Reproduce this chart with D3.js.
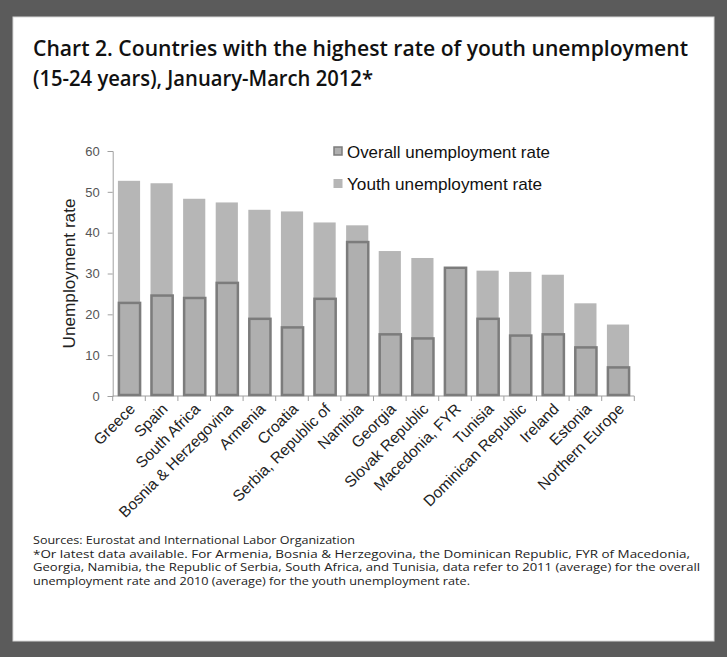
<!DOCTYPE html>
<html>
<head>
<meta charset="utf-8">
<script src="https://cdn.jsdelivr.net/npm/d3@7"></script>
<style>
  html, body { margin: 0; padding: 0; background: #5b5b5b; }
  svg { display: block; }
</style>
</head>
<body>
<svg id="chart" width="727" height="657"></svg>
<script>
// Countries ranked by youth unemployment rate (15-24 years)
const categories = [
  "Greece", "Spain", "South Africa", "Bosnia & Herzegovina", "Armenia",
  "Croatia", "Serbia, Republic of", "Namibia", "Georgia", "Slovak Republic",
  "Macedonia, FYR", "Tunisia", "Dominican Republic", "Ireland", "Estonia",
  "Northern Europe"
];
const youthRate = [52.7, 52.1, 48.3, 47.4, 45.6, 45.2, 42.5, 41.8, 35.5, 33.8, 31.2, 30.7, 30.4, 29.7, 22.7, 17.5];
const overallRate = [22.8, 24.6, 24.0, 27.7, 18.9, 16.8, 23.8, 37.7, 15.1, 14.1, 31.4, 18.9, 14.8, 15.1, 11.9, 7.0];
const yTicks = [0, 10, 20, 30, 40, 50, 60];

const titleLines = [
  "Chart 2. Countries with the highest rate of youth unemployment",
  "(15-24 years),  January-March 2012*"
];
const legendLabels = ["Overall unemployment rate", "Youth unemployment rate"];
const footnotes = [
  "Sources: Eurostat and International Labor Organization",
  "*Or latest data available.  For Armenia, Bosnia & Herzegovina, the Dominican Republic, FYR of Macedonia,",
  "Georgia, Namibia, the Republic of Serbia, South Africa, and Tunisia, data refer to 2011 (average) for the overall",
  "unemployment rate and 2010 (average) for the youth unemployment rate."
];

const svg = d3.select("#chart");

// white card
svg.append("rect")
  .attr("x", 13).attr("y", 17).attr("width", 701).attr("height", 624)
  .attr("fill", "#ffffff").attr("stroke", "#d8d8d8").attr("stroke-width", 1);

// title
const titleFont = "'Open Sans', 'DejaVu Sans', sans-serif";
const titleWidths = [655, 340];
svg.selectAll("text.title").data(titleLines).join("text")
  .attr("class", "title")
  .attr("x", 33).attr("y", (d, i) => 56 + i * 30)
  .attr("font-family", titleFont).attr("font-weight", 600)
  .attr("font-size", 21).attr("fill", "#111")
  .attr("textLength", (d, i) => titleWidths[i])
  .attr("lengthAdjust", "spacingAndGlyphs")
  .text(d => d);

// scales
const plotLeft = 112.7, plotRight = 634.3, plotTop = 151, plotBottom = 396;
const x = d3.scaleBand().domain(categories).range([plotLeft, plotRight])
  .paddingInner(0.32).paddingOuter(0.16);
const y = d3.scaleLinear().domain([0, 60]).range([plotBottom, plotTop]);

const axisColor = "#a0a0a0";
const chartFont = "Arial, 'Liberation Sans', sans-serif";

// y axis
const yAxis = svg.append("g").attr("transform", `translate(${plotLeft},0)`)
  .call(d3.axisLeft(y).tickValues(yTicks).tickSize(5).tickPadding(8));
yAxis.select(".domain").attr("stroke", axisColor);
yAxis.selectAll(".tick line").attr("stroke", axisColor);
yAxis.selectAll(".tick text").attr("font-family", chartFont)
  .attr("font-size", 13).attr("fill", "#555");

// x axis with ticks between categories
const xAxis = svg.append("g").attr("transform", `translate(0,${plotBottom})`);
xAxis.append("line").attr("x1", plotLeft).attr("x2", plotRight)
  .attr("y1", 0).attr("y2", 0).attr("stroke", axisColor);
const step = x.step();
const boundaries = d3.range(categories.length + 1).map(i => plotLeft + i * step);
xAxis.selectAll("line.tk").data(boundaries).join("line")
  .attr("class", "tk")
  .attr("x1", d => d).attr("x2", d => d).attr("y1", 0).attr("y2", 5)
  .attr("stroke", axisColor);

// youth bars (behind)
svg.append("g").selectAll("rect").data(categories).join("rect")
  .attr("x", d => x(d)).attr("width", x.bandwidth())
  .attr("y", (d, i) => y(youthRate[i]))
  .attr("height", (d, i) => plotBottom - y(youthRate[i]))
  .attr("fill", "#b6b6b6");

// overall bars (front, outlined)
svg.append("g").selectAll("rect").data(categories).join("rect")
  .attr("x", d => x(d) + 1).attr("width", x.bandwidth() - 1)
  .attr("y", (d, i) => y(overallRate[i]))
  .attr("height", (d, i) => plotBottom - y(overallRate[i]) - 1)
  .attr("fill", "#afafaf").attr("stroke", "#7c7c7c").attr("stroke-width", 2.5);

// category labels
svg.append("g").selectAll("text").data(categories).join("text")
  .attr("transform", d => `translate(${x(d) + x.bandwidth() / 2 + 7},${plotBottom + 14}) rotate(-45)`)
  .attr("text-anchor", "end")
  .attr("font-family", chartFont).attr("font-size", 15.5).attr("fill", "#222")
  .text(d => d);

// y axis title
svg.append("text")
  .attr("transform", `translate(75,${(plotTop + plotBottom) / 2}) rotate(-90)`)
  .attr("text-anchor", "middle")
  .attr("font-family", chartFont).attr("font-size", 17).attr("fill", "#222")
  .attr("textLength", 150).attr("lengthAdjust", "spacingAndGlyphs")
  .text("Unemployment rate");

// legend
const legend = svg.append("g");
const legendY = [152, 184];
const legendWidths = [203, 195];
legend.selectAll("rect").data(legendLabels).join("rect")
  .attr("x", (d, i) => i === 0 ? 334 : 333.5).attr("y", (d, i) => legendY[i] - 5)
  .attr("width", (d, i) => i === 0 ? 8 : 9).attr("height", (d, i) => i === 0 ? 8 : 9)
  .attr("fill", (d, i) => i === 0 ? "#afafaf" : "#b6b6b6")
  .attr("stroke", (d, i) => i === 0 ? "#7c7c7c" : "none")
  .attr("stroke-width", 1.5);
legend.selectAll("text").data(legendLabels).join("text")
  .attr("x", 347).attr("y", (d, i) => legendY[i] + 6)
  .attr("font-family", chartFont).attr("font-size", 17).attr("fill", "#111")
  .attr("textLength", (d, i) => legendWidths[i]).attr("lengthAdjust", "spacingAndGlyphs")
  .text(d => d);

// footnotes
const footWidths = [322, 657, 667, 437];
svg.selectAll("text.foot").data(footnotes).join("text")
  .attr("class", "foot")
  .attr("x", 33).attr("y", (d, i) => 544 + i * 13.5)
  .attr("font-family", titleFont).attr("font-size", 11).attr("fill", "#222")
  .attr("textLength", (d, i) => footWidths[i])
  .attr("lengthAdjust", "spacingAndGlyphs")
  .text(d => d);
</script>
</body>
</html>
